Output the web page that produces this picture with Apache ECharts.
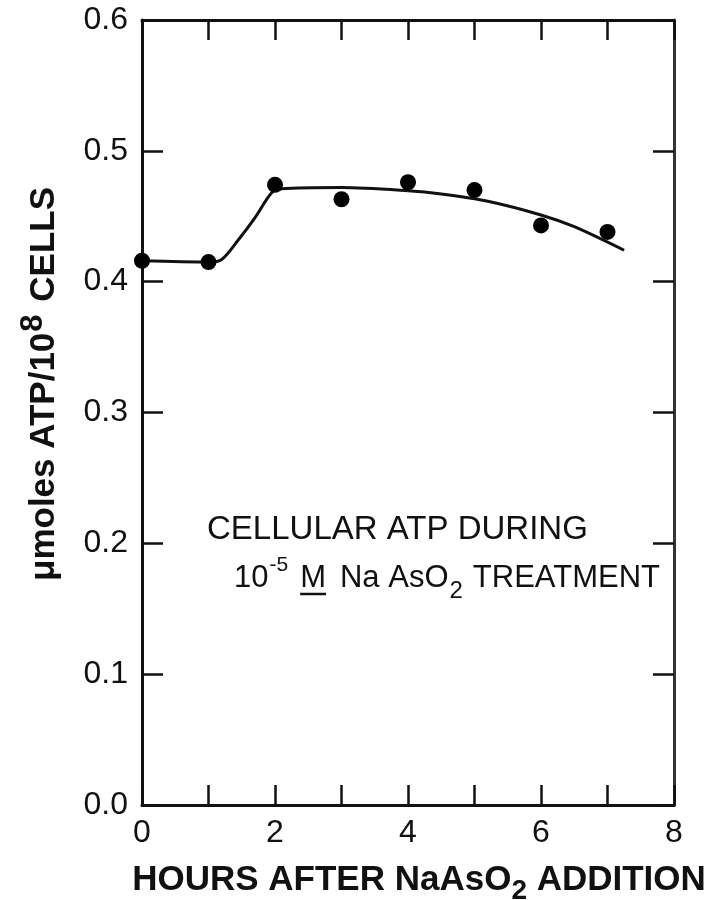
<!DOCTYPE html>
<html>
<head>
<meta charset="utf-8">
<script src="https://cdn.jsdelivr.net/npm/echarts@6/dist/echarts.min.js"></script>
<style>
  html, body { margin: 0; padding: 0; background: #ffffff; }
  #chart { width: 720px; height: 900px; }
</style>
</head>
<body>
<div id="chart"></div>
<script>
// Measured ATP per 10^8 cells at each hour after arsenite addition
const hours = [0, 1, 2, 3, 4, 5, 6, 7];
const atp = [0.416, 0.415, 0.474, 0.463, 0.476, 0.470, 0.443, 0.438];

// Hand-drawn trend curve through the measurements
const curveHours = [0, 1, 1.2, 1.45, 1.7, 1.95, 2.1, 3, 4, 4.5, 5.2, 6, 6.5, 7.25];
const curveAtp = [0.416, 0.415, 0.417, 0.432, 0.449, 0.468, 0.471, 0.472, 0.4695, 0.467, 0.4615, 0.451, 0.442, 0.424];

// Axis ranges and labelled ticks
const xRange = [0, 8];
const yRange = [0, 0.6];
const xLabelled = [0, 2, 4, 6, 8];

const INK = '#111111';
const FONT = '"Liberation Sans", Arial, sans-serif';

const chart = echarts.init(document.getElementById('chart'), null, { renderer: 'canvas' });

const measureCtx = document.createElement('canvas').getContext('2d');
function textWidth(str, size, weight) {
  measureCtx.font = (weight || 'normal') + ' ' + size + 'px ' + FONT;
  return measureCtx.measureText(str).width;
}

// Second line of the in-plot caption, laid out piece by piece
function captionLine(x0, yMid) {
  const pieces = [
    { t: '10', size: 31, dy: 0 },
    { t: '-5', size: 21, dy: -13, gapBefore: 1 },
    { t: 'M', size: 31, dy: 0, under: true, gapBefore: 12 },
    { t: 'Na AsO', size: 31, dy: 0, gapBefore: 14 },
    { t: '2', size: 24, dy: 13, gapBefore: 1 },
    { t: 'TREATMENT', size: 31, dy: 0, gapBefore: 10 }
  ];
  const els = [];
  let x = x0;
  pieces.forEach(function (p) {
    x += p.gapBefore || 0;
    const w = textWidth(p.t, p.size);
    els.push({
      type: 'text',
      x: x, y: yMid + p.dy,
      style: {
        text: p.t, fill: INK, fontSize: p.size, fontFamily: FONT,
        textAlign: 'left', align: 'left',
        textVerticalAlign: 'middle', verticalAlign: 'middle'
      }
    });
    if (p.under) {
      els.push({
        type: 'line',
        shape: { x1: x, y1: yMid + 16, x2: x + w, y2: yMid + 16 },
        style: { stroke: INK, lineWidth: 2.5 }
      });
    }
    x += w;
  });
  return els;
}

const option = {
  backgroundColor: '#ffffff',
  animation: false,
  grid: { left: 142, right: 46, top: 20, bottom: 95, containLabel: false },
  xAxis: [
    {
      type: 'value', position: 'bottom',
      min: xRange[0], max: xRange[1], interval: 1,
      axisLine: { show: true, onZero: false, lineStyle: { color: INK, width: 3 } },
      axisTick: { show: true, inside: true, length: 20, lineStyle: { color: INK, width: 2.5 } },
      axisLabel: {
        color: INK, fontSize: 32, fontFamily: FONT, margin: 12,
        formatter: function (v) { return xLabelled.indexOf(v) >= 0 ? String(v) : ''; }
      },
      splitLine: { show: false }
    },
    {
      type: 'value', position: 'top',
      min: xRange[0], max: xRange[1], interval: 1,
      axisLine: { show: true, onZero: false, lineStyle: { color: INK, width: 3 } },
      axisTick: { show: true, inside: true, length: 20, lineStyle: { color: INK, width: 2.5 } },
      axisLabel: { show: false },
      splitLine: { show: false }
    }
  ],
  yAxis: [
    {
      type: 'value', position: 'left',
      min: yRange[0], max: yRange[1], interval: 0.1,
      axisLine: { show: true, onZero: false, lineStyle: { color: INK, width: 3 } },
      axisTick: { show: true, inside: true, length: 21, lineStyle: { color: INK, width: 2.5 } },
      axisLabel: {
        color: INK, fontSize: 32, fontFamily: FONT, margin: 14,
        formatter: function (v) { return v.toFixed(1); }
      },
      splitLine: { show: false }
    },
    {
      type: 'value', position: 'right',
      min: yRange[0], max: yRange[1], interval: 0.1,
      axisLine: { show: true, onZero: false, lineStyle: { color: '#333333', width: 3 } },
      axisTick: { show: true, inside: true, length: 21, lineStyle: { color: INK, width: 2.5 } },
      axisLabel: { show: false },
      splitLine: { show: false }
    }
  ],
  series: [
    {
      name: 'trend',
      type: 'line',
      xAxisIndex: 0, yAxisIndex: 0,
      data: curveHours.map(function (h, i) { return [h, curveAtp[i]]; }),
      smooth: 0.3,
      showSymbol: false,
      lineStyle: { color: INK, width: 3 },
      z: 2
    },
    {
      name: 'ATP',
      type: 'scatter',
      xAxisIndex: 0, yAxisIndex: 0,
      data: hours.map(function (h, i) { return [h, atp[i]]; }),
      symbol: 'circle',
      symbolSize: 16,
      itemStyle: { color: '#000000', opacity: 1 },
      z: 3
    }
  ],
  graphic: [
    {
      type: 'text',
      x: 44, y: 384,
      rotation: Math.PI / 2,
      style: {
        text: '{m|\u03bcmoles ATP/10}{sup|8}{m| CELLS}',
        fill: INK, fontFamily: FONT,
        textAlign: 'center', align: 'center',
        textVerticalAlign: 'middle', verticalAlign: 'middle',
        rich: {
          m: { fontSize: 35, fontWeight: 'bold', fontFamily: FONT, fill: INK, color: INK },
          sup: { fontSize: 31, fontWeight: 'bold', fontFamily: FONT, fill: INK, color: INK, padding: [0, 3, 22, 1] }
        }
      }
    },
    {
      type: 'text',
      x: 419, y: 880,
      style: {
        text: '{t|HOURS AFTER NaAsO}{s|2}{t| ADDITION}',
        fill: INK, fontFamily: FONT,
        textAlign: 'center', align: 'center',
        textVerticalAlign: 'middle', verticalAlign: 'middle',
        rich: {
          t: { fontSize: 35, fontWeight: 'bold', fontFamily: FONT, fill: INK, color: INK },
          s: { fontSize: 28, fontWeight: 'bold', fontFamily: FONT, fill: INK, color: INK, padding: [22, 0, 0, 0] }
        }
      }
    },
    {
      type: 'text',
      x: 207, y: 530,
      style: {
        text: 'CELLULAR ATP DURING',
        fill: INK, fontSize: 33, fontFamily: FONT,
        textAlign: 'left', align: 'left',
        textVerticalAlign: 'middle', verticalAlign: 'middle'
      }
    },
    { type: 'group', children: captionLine(234, 578) }
  ]
};

chart.setOption(option);
</script>
</body>
</html>
